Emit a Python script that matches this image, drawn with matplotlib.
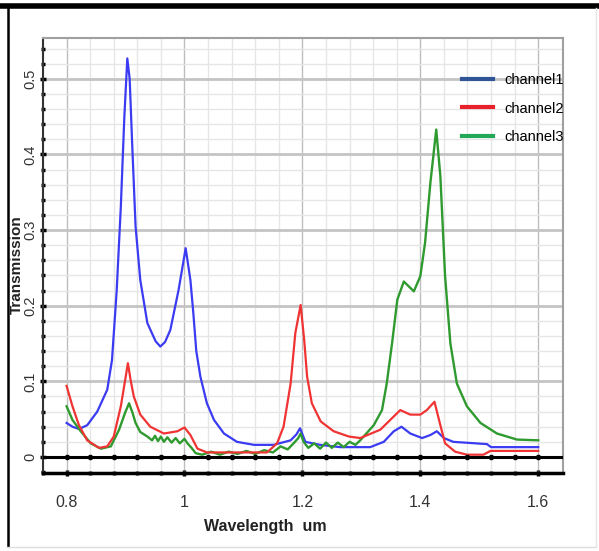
import matplotlib
matplotlib.use("Agg")
import matplotlib.pyplot as plt
from matplotlib.lines import Line2D
import numpy as np

# channel 1 (blue)
ch1_wl = [0.800, 0.810, 0.821, 0.835, 0.852, 0.869, 0.877, 0.885, 0.892, 0.898, 0.903, 0.907,
          0.911, 0.917, 0.925, 0.937, 0.951, 0.959, 0.967, 0.976, 0.990, 1.002, 1.010, 1.015,
          1.020, 1.027, 1.038, 1.050, 1.067, 1.089, 1.118, 1.151, 1.180, 1.190, 1.196, 1.200,
          1.205, 1.230, 1.264, 1.315, 1.338, 1.355, 1.368, 1.383, 1.403, 1.417, 1.428, 1.440,
          1.456, 1.513, 1.520, 1.600]
ch1_t = [0.045, 0.040, 0.037, 0.042, 0.060, 0.089, 0.128, 0.220, 0.331, 0.450, 0.527, 0.500,
         0.419, 0.305, 0.234, 0.177, 0.153, 0.146, 0.152, 0.168, 0.221, 0.276, 0.234, 0.190,
         0.140, 0.106, 0.071, 0.049, 0.031, 0.020, 0.016, 0.016, 0.022, 0.030, 0.038, 0.030,
         0.020, 0.016, 0.013, 0.013, 0.020, 0.034, 0.040, 0.031, 0.025, 0.029, 0.034, 0.025,
         0.020, 0.017, 0.013, 0.013]

# channel 2 (red)
ch2_wl = [0.800, 0.810, 0.821, 0.835, 0.855, 0.869, 0.880, 0.892, 0.899, 0.904, 0.909, 0.914,
          0.925, 0.942, 0.965, 0.988, 1.000, 1.010, 1.022, 1.038, 1.140, 1.157, 1.168, 1.180,
          1.188, 1.197, 1.203, 1.208, 1.216, 1.231, 1.253, 1.279, 1.298, 1.332, 1.349, 1.366,
          1.383, 1.400, 1.411, 1.424, 1.433, 1.442, 1.459, 1.479, 1.507, 1.519, 1.600]
ch2_t = [0.094, 0.067, 0.042, 0.022, 0.012, 0.014, 0.027, 0.067, 0.100, 0.124, 0.100, 0.080,
         0.056, 0.040, 0.031, 0.034, 0.039, 0.029, 0.011, 0.006, 0.006, 0.018, 0.040, 0.097,
         0.164, 0.201, 0.155, 0.106, 0.071, 0.047, 0.034, 0.027, 0.025, 0.036, 0.049, 0.062,
         0.056, 0.056, 0.062, 0.073, 0.045, 0.018, 0.007, 0.003, 0.003, 0.008, 0.008]

# channel 3 (green)
ch3_wl = [0.800, 0.810, 0.824, 0.841, 0.858, 0.875, 0.889, 0.900, 0.906, 0.912, 0.917, 0.925,
          0.937, 0.945, 0.950, 0.955, 0.960, 0.965, 0.971, 0.978, 0.985, 0.992, 1.000, 1.005,
          1.012, 1.019, 1.030, 1.045, 1.060, 1.075, 1.090, 1.105, 1.120, 1.135, 1.150, 1.163,
          1.175, 1.185, 1.193, 1.197, 1.202, 1.210, 1.220, 1.230, 1.240, 1.250, 1.260, 1.270,
          1.280, 1.290, 1.298, 1.321, 1.335, 1.343, 1.352, 1.361, 1.372, 1.389, 1.400, 1.408,
          1.417, 1.427, 1.434, 1.442, 1.451, 1.462, 1.479, 1.502, 1.530, 1.564, 1.600]
ch3_t = [0.067, 0.049, 0.034, 0.018, 0.011, 0.014, 0.036, 0.060, 0.071, 0.058, 0.045, 0.033,
         0.027, 0.022, 0.028, 0.021, 0.027, 0.020, 0.026, 0.019, 0.025, 0.018, 0.024, 0.018,
         0.012, 0.005, 0.003, 0.007, 0.003, 0.007, 0.004, 0.008, 0.004, 0.009, 0.006, 0.014,
         0.010, 0.018, 0.025, 0.031, 0.020, 0.012, 0.018, 0.011, 0.019, 0.012, 0.019, 0.013,
         0.020, 0.016, 0.022, 0.042, 0.062, 0.097, 0.150, 0.208, 0.232, 0.219, 0.239, 0.283,
         0.362, 0.433, 0.371, 0.239, 0.150, 0.097, 0.067, 0.045, 0.031, 0.023, 0.022]

legend_labels = ["channel1", "channel2", "channel3"]
x_ticks = [0.8, 1.0, 1.2, 1.4, 1.6]
x_ticklabels = ["0.8", "1", "1.2", "1.4", "1.6"]
y_ticks = [0, 0.1, 0.2, 0.3, 0.4, 0.5]
y_ticklabels = ["0", "0.1", "0.2", "0.3", "0.4", "0.5"]

plt.rcParams['font.family'] = ['Liberation Sans', 'DejaVu Sans']

fig = plt.figure(figsize=(5.99, 5.51), dpi=100)
ax = fig.add_axes([43 / 599, 1 - 473 / 551, 520 / 599, 435 / 551])

ax.set_xlim(0.761, 1.642)
ax.set_ylim(-0.0212, 0.554)

# grid
ax.set_xticks(x_ticks)
ax.set_xticks(np.arange(0.76, 1.64, 0.04), minor=True)
ax.set_yticks(y_ticks)
ax.set_yticks(np.arange(-0.02, 0.55, 0.02), minor=True)
ax.grid(which='minor', color='#e6e6e6', lw=1.0)
ax.grid(which='major', axis='y', color='#c4c4c4', lw=2.0)
ax.grid(which='major', axis='x', color='#bdbdbd', lw=1.0)
ax.set_axisbelow(True)

ax.plot(ch1_wl, ch1_t, color='#3b3bf2', lw=1.6, zorder=3)
ax.plot(ch2_wl, ch2_t, color='#f03434', lw=1.6, zorder=4)
ax.plot(ch3_wl, ch3_t, color='#2f9a2f', lw=1.7, zorder=3)

# zero line with dots
ax.axhline(0, color='black', lw=2.2, zorder=5)
minor_x = np.arange(0.8, 1.61, 0.04)
ax.plot(minor_x, np.zeros_like(minor_x), ls='none', marker='o', ms=3, color='black', zorder=6)

for s in ['top', 'right']:
    ax.spines[s].set_color('#a0a0a0')
    ax.spines[s].set_linewidth(1.5)
ax.spines['bottom'].set_color('black')
ax.spines['bottom'].set_linewidth(2.5)
ax.spines['left'].set_color('#333333')
ax.spines['left'].set_linewidth(1.5)

ax.tick_params(which='both', direction='inout', color='black')
ax.tick_params(which='major', length=4, width=2.5)
ax.tick_params(which='minor', length=3, width=2.5)
ax.set_xticklabels(x_ticklabels, fontsize=11.5, color='#333333')
ax.set_yticklabels(y_ticklabels, fontsize=10.5, color='#333333', rotation=90, va='center')
ax.tick_params(axis='x', which='major', pad=14)
ax.tick_params(axis='y', which='major', pad=2)

fig.text(17 / 599, 1 - 265 / 551, "Transmission", rotation=90, fontsize=11,
         fontweight='bold', ha='center', va='center', color='#222222')
fig.text(265 / 599, 1 - 527 / 551, "Wavelength  um", fontsize=11.5,
         fontweight='bold', ha='center', va='center', color='#222222')

handles = [Line2D([], [], color='#2f5597', lw=3),
           Line2D([], [], color='#e8202a', lw=3),
           Line2D([], [], color='#23a85a', lw=3)]
ax.legend(handles, legend_labels, loc='upper left',
          bbox_to_anchor=((462 - 43) / 520, (473 - 73) / 435),
          borderaxespad=0, borderpad=0, frameon=False, fontsize=10.5,
          handlelength=2.1, handletextpad=0.8, labelspacing=1.0)

# screenshot frame
fig.add_artist(Line2D([0, 1], [1 - 5.5 / 551, 1 - 5.5 / 551], color='black', lw=4,
                      transform=fig.transFigure))
fig.add_artist(Line2D([7.5 / 599, 7.5 / 599], [1 - 8 / 551, 1 - 546 / 551], color='black', lw=1.8,
                      transform=fig.transFigure))
fig.add_artist(Line2D([7 / 599, 596 / 599], [1 - 547 / 551, 1 - 547 / 551], color='#dddddd', lw=1,
                      transform=fig.transFigure))
fig.add_artist(Line2D([596 / 599, 596 / 599], [1 - 8 / 551, 1 - 547 / 551], color='#e5e5e5', lw=1,
                      transform=fig.transFigure))

fig.savefig("out.png", dpi=100)
